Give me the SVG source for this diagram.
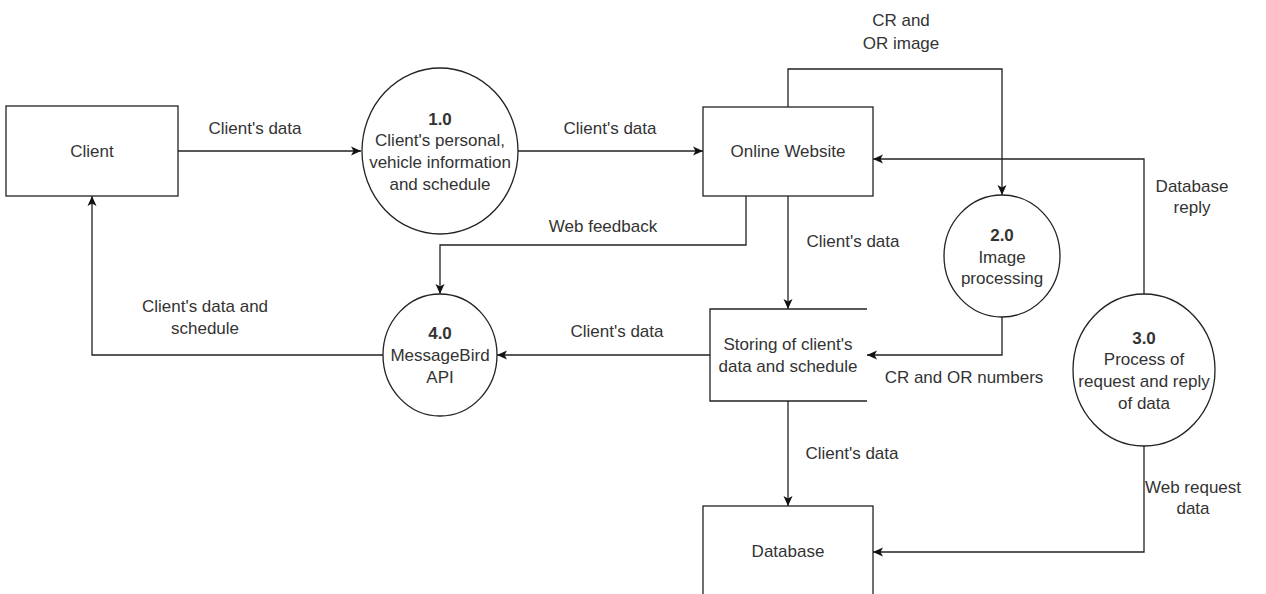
<svg xmlns="http://www.w3.org/2000/svg" width="1266" height="594" viewBox="0 0 1266 594">
<style>
  .shape { fill: #ffffff; stroke: #222222; stroke-width: 1.3; }
  .edge { fill: none; stroke: #222222; stroke-width: 1.3; }
  text { font-family: "Liberation Sans", Arial, sans-serif; font-size: 17px; fill: #333333; text-anchor: middle; }
  .b { font-weight: bold; }
</style>
<defs>
  <marker id="arr" viewBox="0 0 10 10" refX="10" refY="5" markerWidth="10" markerHeight="10" markerUnits="userSpaceOnUse" orient="auto">
    <path d="M0,0.5 L10,5 L0,9.5 L2.5,5 Z" fill="#111111"/>
  </marker>
</defs>
<rect width="1266" height="594" fill="#ffffff"/>

<g id="connectors">
  <path class="edge" d="M178,151 H361" marker-end="url(#arr)"/>
  <path class="edge" d="M518,151 H703" marker-end="url(#arr)"/>
  <path class="edge" d="M788,107 V69 H1002 V195" marker-end="url(#arr)"/>
  <path class="edge" d="M1144,294 V159 H873" marker-end="url(#arr)"/>
  <path class="edge" d="M746,196 V245 H440 V294" marker-end="url(#arr)"/>
  <path class="edge" d="M788,196 V309" marker-end="url(#arr)"/>
  <path class="edge" d="M1002,317 V355 H867" marker-end="url(#arr)"/>
  <path class="edge" d="M710,355 H497" marker-end="url(#arr)"/>
  <path class="edge" d="M383,355 H92 V196" marker-end="url(#arr)"/>
  <path class="edge" d="M788,401 V506" marker-end="url(#arr)"/>
  <path class="edge" d="M1144,445 V552 H873" marker-end="url(#arr)"/>
  <text x="255" y="134">Client's data</text>
  <text x="610" y="134">Client's data</text>
  <text x="901" y="26">CR and</text>
  <text x="901" y="49">OR image</text>
  <text x="1192" y="192">Database</text>
  <text x="1192" y="213">reply</text>
  <text x="603" y="232">Web feedback</text>
  <text x="853" y="247">Client's data</text>
  <text x="205" y="312">Client's data and</text>
  <text x="205" y="334">schedule</text>
  <text x="617" y="337">Client's data</text>
  <text x="964" y="383">CR and OR numbers</text>
  <text x="852" y="459">Client's data</text>
  <text x="1193" y="493">Web request</text>
  <text x="1193" y="514">data</text>
</g>

<g id="client">
  <rect class="shape" x="6" y="106" width="172" height="90"/>
  <text x="92" y="157">Client</text>
</g>

<g id="p1">
  <ellipse class="shape" cx="440" cy="151" rx="78" ry="83"/>
  <text class="b" x="440" y="125">1.0</text>
  <text x="440" y="146">Client's personal,</text>
  <text x="440" y="168">vehicle information</text>
  <text x="440" y="190">and schedule</text>
</g>

<g id="website">
  <rect class="shape" x="703" y="107" width="170" height="89"/>
  <text x="788" y="157">Online Website</text>
</g>

<g id="p2">
  <ellipse class="shape" cx="1002" cy="256" rx="58" ry="61"/>
  <text class="b" x="1002" y="241">2.0</text>
  <text x="1002" y="263">Image</text>
  <text x="1002" y="284">processing</text>
</g>

<g id="p3">
  <ellipse class="shape" cx="1144" cy="370" rx="71" ry="76"/>
  <text class="b" x="1144" y="344">3.0</text>
  <text x="1144" y="365">Process of</text>
  <text x="1144" y="387">request and reply</text>
  <text x="1144" y="409">of data</text>
</g>

<g id="p4">
  <ellipse class="shape" cx="440" cy="355" rx="57" ry="61"/>
  <text class="b" x="440" y="339">4.0</text>
  <text x="440" y="361">MessageBird</text>
  <text x="440" y="383">API</text>
</g>

<g id="store">
  <rect x="710" y="309" width="157" height="92" fill="#ffffff"/>
  <path class="edge" d="M867,309 H710 V401 H867"/>
  <text x="788" y="350">Storing of client's</text>
  <text x="788" y="372">data and schedule</text>
</g>

<g id="database">
  <rect class="shape" x="703" y="506" width="170" height="100"/>
  <text x="788" y="557">Database</text>
</g>
</svg>
